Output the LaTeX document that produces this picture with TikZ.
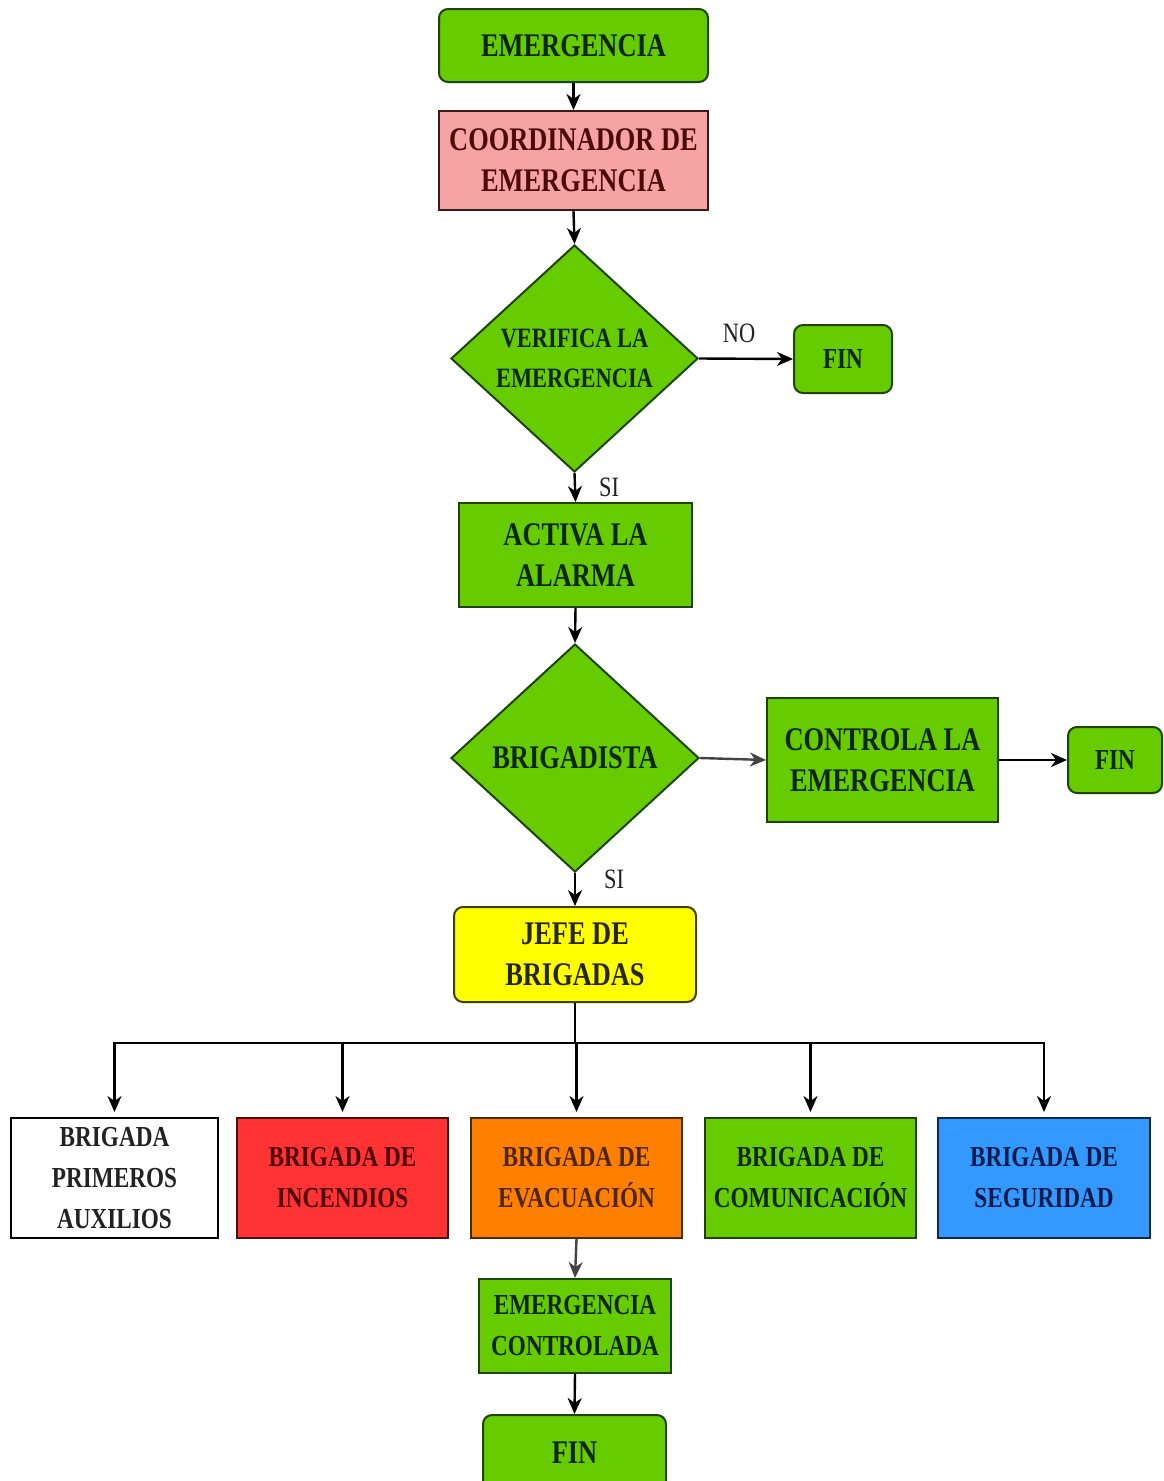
\documentclass[tikz,border=0pt]{standalone}
\usepackage{fontspec}
\newfontfamily\dfont[FakeStretch=0.8]{Liberation Serif}
\usetikzlibrary{arrows.meta,shapes.geometric}
\definecolor{gfill}{HTML}{66CC00}
\definecolor{gline}{HTML}{1E4400}
\definecolor{gtext}{HTML}{0D2600}
\definecolor{pfill}{HTML}{F5A3A3}
\definecolor{pline}{HTML}{3A1A1A}
\definecolor{ptext}{HTML}{4D0A0A}
\definecolor{yfill}{HTML}{FFFF00}
\definecolor{yline}{HTML}{404000}
\definecolor{ytext}{HTML}{262600}
\definecolor{rfill}{HTML}{FF3333}
\definecolor{rline}{HTML}{4D1010}
\definecolor{rtext}{HTML}{4D0000}
\definecolor{ofill}{HTML}{FF8000}
\definecolor{oline}{HTML}{4D2A00}
\definecolor{otext}{HTML}{4D2600}
\definecolor{bfill}{HTML}{3399FF}
\definecolor{bline}{HTML}{0D2A4D}
\definecolor{btext}{HTML}{001A4D}
\definecolor{lbl}{HTML}{222222}
\definecolor{darkline}{HTML}{444444}
\tikzset{
  big/.style={font=\dfont\bfseries\fontsize{33}{41}\selectfont},
  small/.style={font=\dfont\bfseries\fontsize{29}{41}\selectfont},
  box/.style={draw, line width=2pt, inner sep=0pt, align=center, rectangle},
  rbox/.style={box, rounded corners=9pt},
  gbox/.style={fill=gfill, draw=gline, text=gtext},
  dia/.style={diamond, draw=gline, fill=gfill, line width=2pt, inner sep=0pt},
  diatext/.style={align=center, text=gtext},
  lab/.style={font=\dfont\fontsize{28}{30}\selectfont, text=lbl, inner sep=0pt},
  arr/.style={line width=2.4pt, -{Stealth[length=16pt,width=14pt,inset=5pt]}},
}
\begin{document}
\begin{tikzpicture}[x=1pt,y=-1pt]
\useasboundingbox[fill=white] (0,0) rectangle (1164,1481);

\node[rbox,gbox,big,minimum width=269pt,minimum height=73pt] (e1) at (573.5,45.5) {EMERGENCIA};
\node[box,big,fill=pfill,draw=pline,text=ptext,minimum width=269pt,minimum height=99pt] (coord) at (573.5,160.5) {COORDINADOR DE\\EMERGENCIA};
\node[dia,minimum width=247pt,minimum height=227pt,
  label={[diatext,font=\dfont\bfseries\fontsize{28}{40}\selectfont]center:{VERIFICA LA\\EMERGENCIA}}] (d1) at (574.5,358.5) {};
\node[rbox,gbox,small,minimum width=98pt,minimum height=68pt] (fin1) at (843,359) {FIN};
\node[box,gbox,big,minimum width=233pt,minimum height=104pt] (act) at (575.5,555) {ACTIVA LA\\ALARMA};
\node[dia,minimum width=248pt,minimum height=228pt,
  label={[diatext,big]center:{BRIGADISTA}}] (d2) at (575,758) {};
\node[box,gbox,big,minimum width=231pt,minimum height=124pt] (ctrl) at (882.5,760) {CONTROLA LA\\EMERGENCIA};
\node[rbox,gbox,small,minimum width=94pt,minimum height=66pt] (fin2) at (1115,760) {FIN};
\node[rbox,big,fill=yfill,draw=yline,text=ytext,minimum width=242pt,minimum height=95pt] (jefe) at (575,954.5) {JEFE DE\\BRIGADAS};

\node[box,small,fill=white,draw=black,text=lbl,minimum width=207pt,minimum height=120pt] (b1) at (114.5,1178) {BRIGADA\\PRIMEROS\\AUXILIOS};
\node[box,small,fill=rfill,draw=rline,text=rtext,minimum width=211pt,minimum height=120pt] (b2) at (342.5,1178) {BRIGADA DE\\INCENDIOS};
\node[box,small,fill=ofill,draw=oline,text=otext,minimum width=211pt,minimum height=120pt] (b3) at (576.5,1178) {BRIGADA DE\\EVACUACIÓN};
\node[box,gbox,small,minimum width=211pt,minimum height=120pt] (b4) at (810.5,1178) {BRIGADA DE\\COMUNICACIÓN};
\node[box,small,fill=bfill,draw=bline,text=btext,minimum width=212pt,minimum height=120pt] (b5) at (1044,1178) {BRIGADA DE\\SEGURIDAD};

\node[box,gbox,small,minimum width=192pt,minimum height=94pt] (ec) at (575,1326) {EMERGENCIA\\CONTROLADA};
\node[rbox,gbox,big,minimum width=183pt,minimum height=75pt] (fin3) at (574.5,1452.5) {FIN};

\node[lab] (lno) at (739,333) {NO};
\node[lab] (lsi1) at (609,487) {SI};
\node[lab] (lsi2) at (614,879) {SI};

\draw[arr] (e1.south) -- (coord.north);
\draw[arr] (coord.south) -- (d1.north);
\draw[arr] (d1.east) -- (fin1.west);
\draw[arr] (d1.south) -- (act.north);
\draw[arr] (act.south) -- (d2.north);
\draw[arr,draw=darkline] (d2.east) -- (ctrl.west);
\draw[arr] (ctrl.east) -- (fin2.west);
\draw[arr] (d2.south) -- (jefe.north);
\foreach \b in {b1,b2,b3,b4,b5}{
  \draw[arr,shorten >=5pt] (jefe.south) -- ++(0,40) -| (\b.north);
}
\draw[arr,draw=darkline] (b3.south) -- (ec.north);
\draw[arr] (ec.south) -- (fin3.north);
\end{tikzpicture}
\end{document}
